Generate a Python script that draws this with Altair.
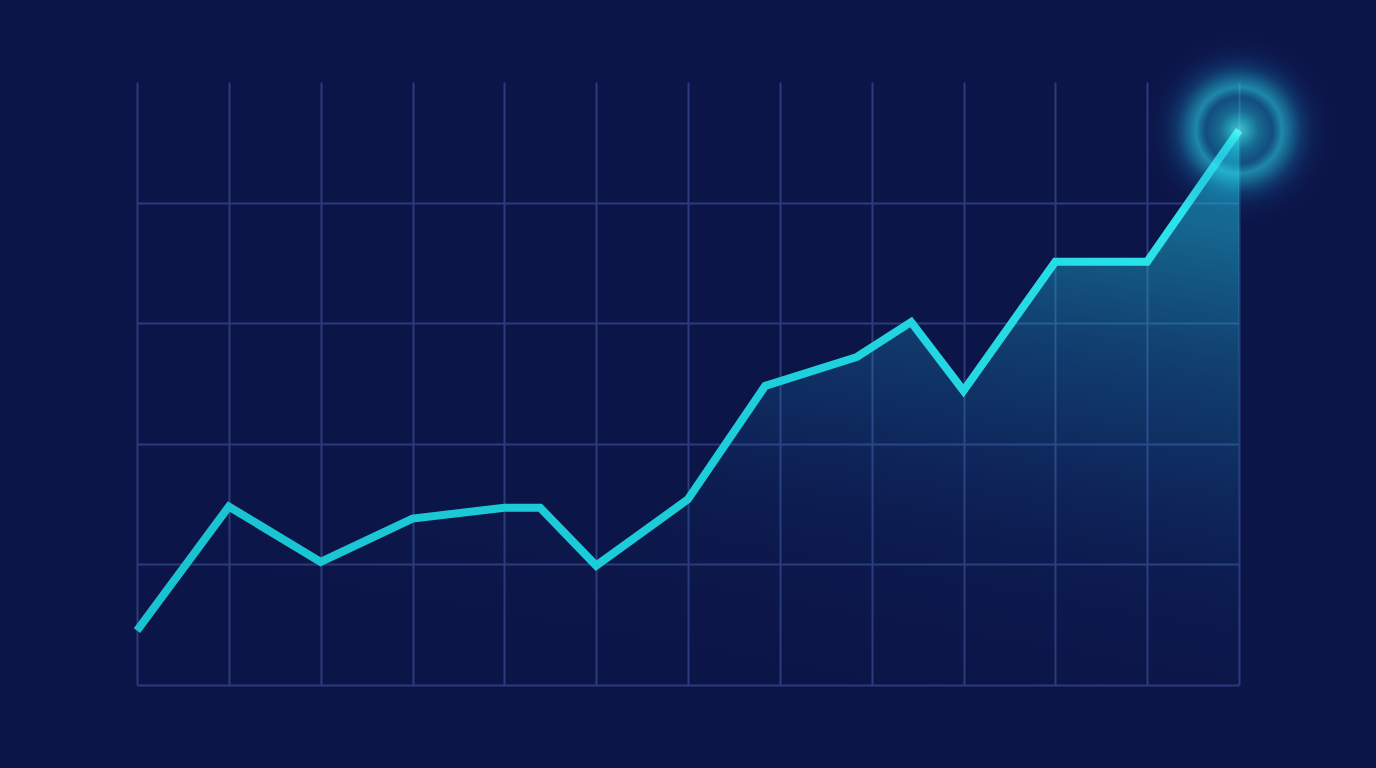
import altair as alt
import pandas as pd

# Data (grid units)
xs = [0.0, 1.0, 2.0, 3.0, 4.0, 4.39, 5.0, 6.0, 6.84, 7.84, 8.43, 9.0, 10.0, 11.0, 12.0]
ys = [0.45, 1.48, 1.02, 1.38, 1.47, 1.47, 0.99, 1.54, 2.48, 2.72, 3.01, 2.44, 3.51, 3.51, 4.60]
x_ticks = list(range(0, 13))
y_ticks = [0, 1, 2, 3, 4]

BG = "#0c1548"
GRID = "#2a3c7c"

df = pd.DataFrame({"x": xs, "y": ys})
end = pd.DataFrame({"x": [xs[-1]], "y": [ys[-1]]})

xsc = alt.Scale(domain=[0, 12], nice=False, zero=False)
ysc = alt.Scale(domain=[0, 5], nice=False, zero=False)

xax = alt.Axis(values=x_ticks, grid=True, gridColor=GRID, gridWidth=2, labels=False,
               ticks=False, domain=False, title=None)
yax = alt.Axis(values=y_ticks, grid=True, gridColor=GRID, gridWidth=2, labels=False,
               ticks=False, domain=False, title=None)

base = alt.Chart(df)

area = base.mark_area(
    interpolate="linear",
    fill=alt.Gradient(
        gradient="linear",
        x1=0.95, y1=0.0, x2=0.6, y2=1.0,
        stops=[
            alt.GradientStop(color="rgba(30,205,225,0.62)", offset=0),
            alt.GradientStop(color="rgba(30,170,210,0.30)", offset=0.35),
            alt.GradientStop(color="rgba(25,120,190,0.08)", offset=0.7),
            alt.GradientStop(color="rgba(12,21,72,0)", offset=1),
        ],
    ),
).encode(
    x=alt.X("x:Q", scale=xsc, axis=xax),
    y=alt.Y("y:Q", scale=ysc, axis=yax),
    y2=alt.datum(0),
)

line = base.mark_line(
    strokeWidth=8,
    strokeJoin="miter",
    strokeCap="butt",
    stroke=alt.Gradient(
        gradient="linear", x1=0, y1=0, x2=1, y2=0,
        stops=[
            alt.GradientStop(color="#19c2cf", offset=0),
            alt.GradientStop(color="#1dd0dc", offset=0.6),
            alt.GradientStop(color="#2ee6ec", offset=1),
        ],
    ),
).encode(x=alt.X("x:Q", scale=xsc), y=alt.Y("y:Q", scale=ysc))

glow = alt.Chart(end).mark_point(
    shape="circle", filled=True, size=40000, strokeWidth=0,
    fill=alt.Gradient(
        gradient="radial", x1=0.5, y1=0.5, r1=0, x2=0.5, y2=0.5, r2=0.5,
        stops=[
            alt.GradientStop(color="rgba(110,252,252,1)", offset=0),
            alt.GradientStop(color="rgba(55,235,242,0.95)", offset=0.08),
            alt.GradientStop(color="rgba(35,195,222,0.7)", offset=0.2),
            alt.GradientStop(color="rgba(28,160,205,0.58)", offset=0.33),
            alt.GradientStop(color="rgba(45,215,235,0.85)", offset=0.43),
            alt.GradientStop(color="rgba(35,190,222,0.65)", offset=0.52),
            alt.GradientStop(color="rgba(25,140,195,0.38)", offset=0.63),
            alt.GradientStop(color="rgba(20,90,160,0.18)", offset=0.76),
            alt.GradientStop(color="rgba(15,50,110,0.06)", offset=0.9),
            alt.GradientStop(color="rgba(12,21,72,0)", offset=1),
        ],
    ),
).encode(x=alt.X("x:Q", scale=xsc), y=alt.Y("y:Q", scale=ysc))

chart = alt.layer(area, line, glow).properties(
    width=1102, height=603,
    background=BG,
    padding={"left": 129, "top": 74, "right": 129, "bottom": 60},
    autosize=alt.AutoSizeParams(type="none"),
).configure_view(stroke=None)

chart.save("out.html", embed_options={"renderer": "svg", "actions": False,
                                       "defaultStyle": "body{background:#0c1548;}"})
